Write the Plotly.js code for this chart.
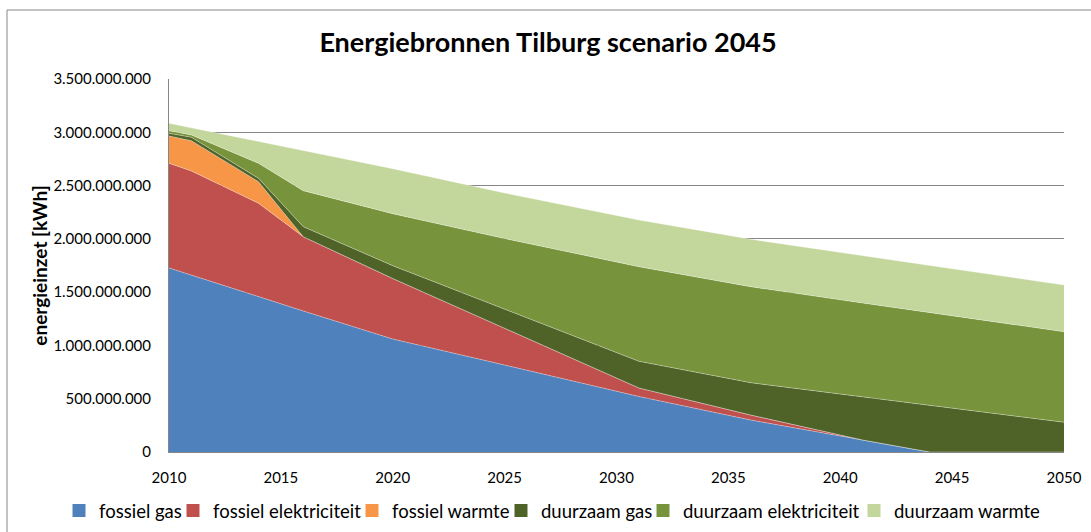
<!DOCTYPE html>
<html>
<head>
<meta charset="utf-8">
<script src="https://cdn.plot.ly/plotly-3.0.1.min.js"></script>
<style>
  html, body { margin: 0; padding: 0; background: #fff; }
  #chart { width: 1091px; height: 532px; }
</style>
</head>
<body>
<div id="chart"></div>
<script>
// Data (kWh)
const years = [2010, 2011, 2014, 2016, 2020, 2025, 2031, 2036, 2041, 2044, 2050];
const fossielGas       = [1727e6, 1661e6, 1458e6, 1323e6, 1060e6, 816e6, 521e6, 300e6, 113e6, 0, 0];
const fossielElek      = [982e6, 976e6, 876e6, 697e6, 568e6, 345e6, 80e6, 47e6, 0, 0, 0];
const fossielWarmte    = [256e6, 284e6, 202e6, 0, 0, 0, 0, 0, 0, 0, 0];
const duurzaamGas      = [25e6, 32e6, 32e6, 94e6, 120e6, 180e6, 250e6, 303e6, 403e6, 438e6, 279e6];
const duurzaamElek     = [25e6, 22e6, 141e6, 338e6, 488e6, 662e6, 888e6, 901e6, 882e6, 871e6, 850e6];
const duurzaamWarmte   = [69e6, 67e6, 206e6, 379e6, 422e6, 427e6, 438e6, 445e6, 442e6, 441e6, 438e6];

const seriesNames = ['fossiel gas', 'fossiel elektriciteit', 'fossiel warmte', 'duurzaam gas', 'duurzaam elektriciteit', 'duurzaam warmte'];
const seriesColors = ['#4F81BD', '#C0504D', '#F79646', '#4F6228', '#77933C', '#C3D69B'];
const seriesValues = [fossielGas, fossielElek, fossielWarmte, duurzaamGas, duurzaamElek, duurzaamWarmte];

const xTickVals = [2010, 2015, 2020, 2025, 2030, 2035, 2040, 2045, 2050];
const yTickVals = [0, 500e6, 1000e6, 1500e6, 2000e6, 2500e6, 3000e6, 3500e6];
const yTickText = ['0', '500.000.000', '1.000.000.000', '1.500.000.000', '2.000.000.000', '2.500.000.000', '3.000.000.000', '3.500.000.000'];

const FONT = 'Lato, Carlito, Calibri, sans-serif';

// plot area geometry (pixels)
const L = 169, R = 1064, T = 79, B = 452, W = 1091, H = 532;
const px = v => (v - L) / (R - L);
const py = v => (B - v) / (B - T);

// legend text start positions (pixels) for each entry
const legendTextX = [94, 208, 387, 536, 678, 889];
const legendIds = ['legend', 'legend2', 'legend3', 'legend4', 'legend5', 'legend6'];

const areaTraces = seriesValues.map((vals, i) => ({
  type: 'scatter',
  mode: 'lines',
  x: years,
  y: vals,
  name: seriesNames[i],
  stackgroup: 'one',
  fillcolor: seriesColors[i],
  line: { width: 0.6, color: 'rgba(255,255,255,0.55)' },
  showlegend: false,
  hoverinfo: 'skip'
}));

const legendTraces = seriesNames.map((nm, i) => ({
  type: 'scatter',
  mode: 'markers',
  x: [null],
  y: [null],
  name: nm,
  legend: legendIds[i],
  marker: { symbol: 'square', size: 13, color: seriesColors[i], line: { width: 0 } },
  showlegend: true,
  hoverinfo: 'skip'
}));

const layout = {
  width: W,
  height: H,
  margin: { l: L, r: W - R, t: T, b: H - B, pad: 0 },
  paper_bgcolor: '#ffffff',
  plot_bgcolor: '#ffffff',
  font: { family: FONT, size: 15, color: '#000' },
  title: {
    text: '<b>Energiebronnen Tilburg scenario 2045</b>',
    font: { family: FONT, size: 27, color: '#000' },
    x: 548 / W, xref: 'container', xanchor: 'center',
    y: 1 - 43 / H, yref: 'container', yanchor: 'middle'
  },
  xaxis: {
    range: [2010, 2050],
    tickvals: xTickVals,
    ticktext: xTickVals.map(String),
    showgrid: false,
    zeroline: false,
    showline: true,
    linecolor: '#868686',
    linewidth: 1,
    ticks: 'outside',
    ticklen: 12,
    tickcolor: 'rgba(0,0,0,0)',
    tickfont: { family: FONT, size: 15, color: '#000' },
    fixedrange: true
  },
  yaxis: {
    range: [0, 3.5e9],
    tickvals: yTickVals,
    ticktext: yTickText,
    showgrid: true,
    gridcolor: '#868686',
    gridwidth: 1,
    zeroline: false,
    showline: true,
    linecolor: '#868686',
    linewidth: 1,
    ticks: 'outside',
    ticklen: 14,
    tickcolor: 'rgba(0,0,0,0)',
    tickfont: { family: FONT, size: 15, color: '#000' },
    title: {
      text: '<b>energieinzet [kWh]</b>',
      font: { family: FONT, size: 19, color: '#000' },
      standoff: 0
    },
    fixedrange: true
  },
  showlegend: true,
  shapes: [{
    type: 'rect', xref: 'paper', yref: 'paper', layer: 'above',
    x0: px(7), x1: px(1100), y0: py(10), y1: py(545),
    line: { color: '#868686', width: 1 }, fillcolor: 'rgba(0,0,0,0)'
  }]
};

legendIds.forEach((id, i) => {
  layout[id] = {
    orientation: 'h',
    xref: 'container', yref: 'container',
    x: (legendTextX[i] - 35) / W, xanchor: 'left',
    y: 1 - 511 / H, yanchor: 'middle',
    font: { family: FONT, size: 18.5, color: '#000' },
    itemwidth: 30,
    bgcolor: 'rgba(0,0,0,0)',
    borderwidth: 0
  };
});

Plotly.newPlot('chart', areaTraces.concat(legendTraces), layout, { displayModeBar: false, staticPlot: true });
</script>
</body>
</html>
